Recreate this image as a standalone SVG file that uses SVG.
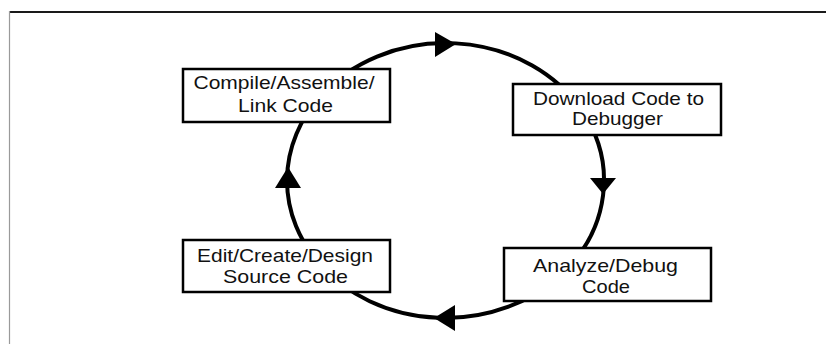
<svg xmlns="http://www.w3.org/2000/svg" width="826" height="344" viewBox="0 0 826 344">
  <style>
    .frame-top { stroke: #1a1a1a; stroke-width: 2; fill: none; }
    .frame-left { stroke: #9a9a9a; stroke-width: 1.2; fill: none; }
    .cycle { stroke: #000; stroke-width: 4; fill: none; }
    .head { fill: #000; stroke: none; }
    .box { fill: #fff; stroke: #000; stroke-width: 2.5; }
    .label { font-family: "Liberation Sans", Arial, Helvetica, sans-serif; font-size: 19px; fill: #111; text-anchor: middle; }
  </style>

  <!-- page frame -->
  <line class="frame-top" x1="9" y1="12" x2="826" y2="12"/>
  <line class="frame-left" x1="9.5" y1="11" x2="9.5" y2="344"/>

  <!-- cycle arcs with direction arrows -->
  <g id="connectors">
    <path class="cycle" d="M321.4,95 A158.5,137.5 0 0 1 581.5,110"/>
    <path class="cycle" d="M581.5,110 A158.5,137.5 0 0 1 560.7,275"/>
    <path class="cycle" d="M560.7,275 A158.5,137.5 0 0 1 320.5,265"/>
    <path class="cycle" d="M320.5,265 A158.5,137.5 0 0 1 321.4,95"/>
    <polygon class="head" points="456,44 435,32 435,57"/>
    <polygon class="head" points="603,194 590,178 616,178"/>
    <polygon class="head" points="434,318 455,305 455,331"/>
    <polygon class="head" points="288,167 275,188 301,188"/>
  </g>

  <g id="compile">
    <rect class="box" x="183" y="69" width="207" height="53"/>
    <text class="label" x="284" y="89" textLength="181" lengthAdjust="spacingAndGlyphs">Compile/Assemble/</text>
    <text class="label" x="285.5" y="111.5" textLength="95" lengthAdjust="spacingAndGlyphs">Link Code</text>
  </g>

  <g id="download">
    <rect class="box" x="513" y="84" width="208" height="51"/>
    <text class="label" x="618.5" y="105" textLength="171" lengthAdjust="spacingAndGlyphs">Download Code to</text>
    <text class="label" x="617.5" y="125" textLength="91" lengthAdjust="spacingAndGlyphs">Debugger</text>
  </g>

  <g id="analyze">
    <rect class="box" x="504" y="248" width="207" height="53"/>
    <text class="label" x="605.5" y="271.5" textLength="145" lengthAdjust="spacingAndGlyphs">Analyze/Debug</text>
    <text class="label" x="606" y="293" textLength="48" lengthAdjust="spacingAndGlyphs">Code</text>
  </g>

  <g id="edit">
    <rect class="box" x="183" y="240" width="207" height="52"/>
    <text class="label" x="285" y="261.5" textLength="176" lengthAdjust="spacingAndGlyphs">Edit/Create/Design</text>
    <text class="label" x="285.5" y="283" textLength="125" lengthAdjust="spacingAndGlyphs">Source Code</text>
  </g>
</svg>
